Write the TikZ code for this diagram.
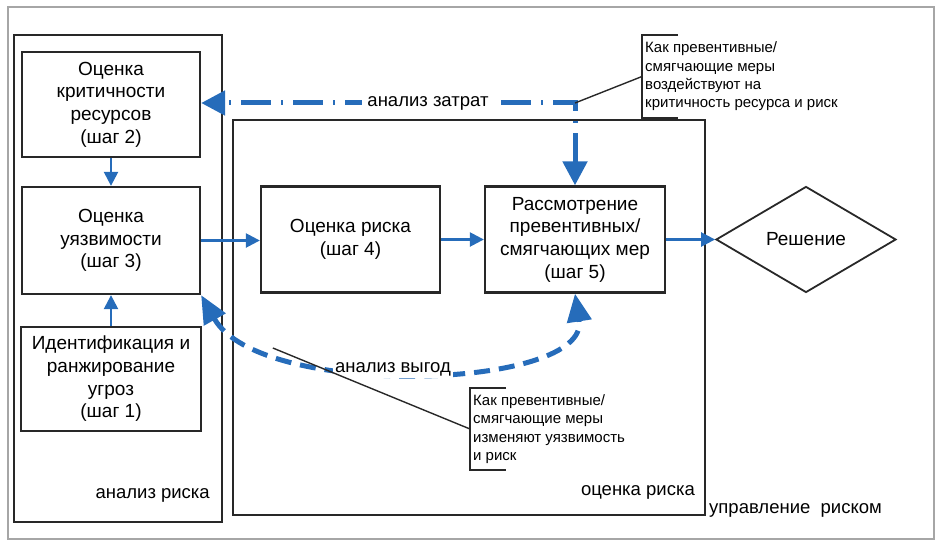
\documentclass[tikz,border=0pt]{standalone}
\usepackage{fontspec}
\setmainfont{Liberation Sans}
\usetikzlibrary{arrows.meta,shapes.geometric}
\definecolor{arrowblue}{RGB}{38,108,186}
\definecolor{boxline}{RGB}{40,40,40}
\begin{document}
\begin{tikzpicture}[x=1pt,y=-1pt,
  stepbox/.style={draw=boxline, line width=2.3pt, align=center, font=\fontsize{19}{22.7}\selectfont, inner sep=0pt},
  framebox/.style={draw=boxline, line width=2.3pt},
  flow/.style={draw=arrowblue, line width=2.4pt, -{Triangle[length=14pt,width=14pt]}},
  costline/.style={draw=arrowblue, line width=5pt, dash pattern=on 30pt off 10pt on 2pt off 10pt,
     {Triangle[length=24pt,width=24pt]}-{Triangle[length=24pt,width=24pt]}},
  benefit/.style={draw=arrowblue, line width=5pt, dash pattern=on 16pt off 9pt,
     {Triangle[length=28pt,width=24pt]}-{Triangle[length=28pt,width=24pt]}},
  note/.style={align=left, font=\fontsize{15}{18.3}\selectfont, inner sep=3pt, anchor=west, minimum height=83pt},
  bracket/.style={draw=boxline, line width=1.6pt},
  callout/.style={draw=boxline, line width=1.4pt},
  lbl/.style={font=\fontsize{18.5}{22}\selectfont, inner sep=1pt}
]
\useasboundingbox (0,0) rectangle (941,548);
% outer frame
\draw[gray!70, line width=1.2pt] (8,7) rectangle (934,539);
% group frames
\draw[framebox] (14,35) rectangle (222,522);
\draw[framebox] (233,120) rectangle (705,515);

% steps
\node[stepbox, minimum width=178pt, minimum height=105pt] (s2) at (111,104.5) {Оценка\\критичности\\ресурсов\\(шаг 2)};
\node[stepbox, minimum width=178pt, minimum height=107pt] (s3) at (111,240.5) {Оценка\\уязвимости\\(шаг 3)};
\node[stepbox, minimum width=180pt, minimum height=104pt] (s1) at (111,379) {Идентификация и\\ранжирование\\угроз\\(шаг 1)};
\node[stepbox, minimum width=179pt, minimum height=106pt] (s4) at (350.5,239.5) {Оценка риска\\(шаг 4)};
\node[stepbox, minimum width=180pt, minimum height=106pt] (s5) at (575,239.5) {Рассмотрение\\превентивных/\\смягчающих мер\\(шаг 5)};
\node[diamond, draw=boxline, line width=1.8pt, minimum width=180pt, minimum height=106pt, inner sep=0pt,
      font=\fontsize{19}{22.7}\selectfont] (dec) at (806,239.5) {Решение};

% solid flows
\draw[flow] (s2.south) -- (s3.north);
\draw[flow] (s1.north) -- (s3.south);
\draw[flow] (s3.east) -- (s3.east -| s4.west);
\draw[flow] (s4.east) -- (s5.west);
\draw[flow] (s5.east) -- (dec.west);

% cost analysis
\coordinate (cc) at (575,103);
\draw[costline] (s5.north) -- (cc) -- (cc -| s2.east);
\node[lbl, fill=white, inner sep=5pt] (costlbl) at (428,103) {анализ затрат};

% benefit analysis
\draw[benefit] (s3.south east) .. controls (260,400) and (590,390) .. (s5.south) coordinate[pos=0.22] (bp);
\node[lbl, fill=white, inner sep=2pt] (benlbl) at (393,369) {анализ выгод};

% notes
\node[note] (n1) at (642,76.5) {Как превентивные/\\смягчающие меры\\воздействуют на\\критичность ресурса и риск};
\draw[bracket] ([xshift=36pt]n1.north west) -- (n1.north west) -- (n1.south west) -- ([xshift=36pt]n1.south west);
\draw[callout] (cc) -- (n1.west);

\node[note, minimum height=82pt] (n2) at (470,429) {Как превентивные/\\смягчающие меры\\изменяют уязвимость\\и риск};
\draw[bracket] ([xshift=36pt]n2.north west) -- (n2.north west) -- (n2.south west) -- ([xshift=36pt]n2.south west);
\draw[callout] (bp) -- (n2.west);

% frame labels
\node[lbl, anchor=east] (la) at (211,495) {анализ риска};
\node[lbl, anchor=east] (lb) at (696,492) {оценка риска};
\node[lbl, anchor=west] (lc) at (708,510) {управление\ \ риском};
\end{tikzpicture}
\end{document}
